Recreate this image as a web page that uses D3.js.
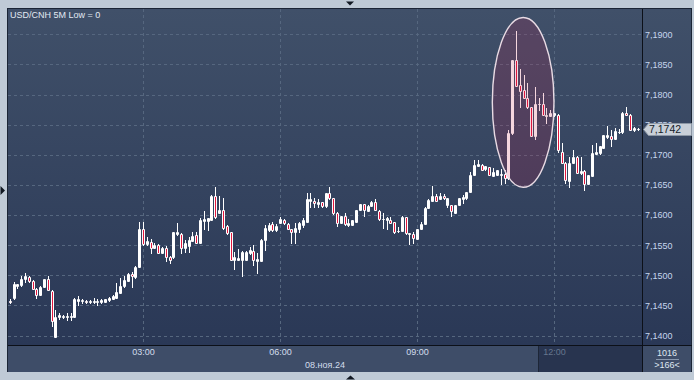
<!DOCTYPE html>
<html>
<head>
<meta charset="utf-8">
<script src="https://d3js.org/d3.v7.min.js"></script>
<style>
  body { margin: 0; background: #bfcad6; }
  svg { display: block; font-family: "Liberation Sans", Arial, sans-serif; }
</style>
</head>
<body>
<svg width="694" height="380"></svg>
<script>
// USD/CNH 5 minute bars, 08.11.2024, first bar at 00:05
const title = "USD/CNH 5M Low = 0";
const firstBar = "00:05";
const dateLabel = "08.ноя.24";
const opens = [
  7.1457, 7.1462, 7.1482, 7.1484, 7.1494, 7.1497, 7.1491, 7.1478, 7.1468, 7.1481,
  7.1493, 7.1474, 7.1398, 7.1430, 7.1430, 7.1430, 7.1430, 7.1431, 7.1458, 7.1458,
  7.1458, 7.1456, 7.1455, 7.1456, 7.1455, 7.1456, 7.1459, 7.1461, 7.1463, 7.1471,
  7.1483, 7.1491, 7.1502, 7.1497, 7.1514, 7.1576, 7.1552, 7.1556, 7.1546, 7.1550,
  7.1537, 7.1546, 7.1530, 7.1530, 7.1568, 7.1569, 7.1546, 7.1549, 7.1557, 7.1567,
  7.1554, 7.1590, 7.1590, 7.1592, 7.1631, 7.1604, 7.1608, 7.1581, 7.1571, 7.1525,
  7.1526, 7.1525, 7.1525, 7.1537, 7.1540, 7.1524, 7.1524, 7.1559, 7.1575, 7.1585,
  7.1575, 7.1586, 7.1592, 7.1585, 7.1576, 7.1571, 7.1576, 7.1584, 7.1589, 7.1624,
  7.1624, 7.1618, 7.1621, 7.1615, 7.1636, 7.1628, 7.1604, 7.1586, 7.1598, 7.1584,
  7.1584, 7.1589, 7.1608, 7.1618, 7.1607, 7.1615, 7.1622, 7.1607, 7.1593, 7.1592,
  7.1592, 7.1589, 7.1573, 7.1574, 7.1596, 7.1569, 7.1569, 7.1561, 7.1576, 7.1585,
  7.1611, 7.1624, 7.1632, 7.1626, 7.1632, 7.1617, 7.1617, 7.1604, 7.1617, 7.1626,
  7.1628, 7.1639, 7.1667, 7.1681, 7.1683, 7.1676, 7.1679, 7.1665, 7.1667, 7.1667,
  7.1668, 7.1661, 7.1736, 7.1857, 7.1816, 7.1808, 7.1795, 7.1779, 7.1732, 7.1784,
  7.1784, 7.1765, 7.1764, 7.1766, 7.1766, 7.1705, 7.1687, 7.1657, 7.1686, 7.1696,
  7.1670, 7.1673, 7.1652, 7.1665, 7.1701, 7.1703, 7.1712, 7.1729, 7.1731, 7.1727,
  7.1737, 7.1737, 7.1770, 7.1766, 7.1741, 7.1742
];
const highs = [
  7.1461, 7.1488, 7.1486, 7.1499, 7.1503, 7.1499, 7.1492, 7.1479, 7.1482, 7.1494,
  7.1498, 7.1476, 7.1442, 7.1437, 7.1434, 7.1438, 7.1437, 7.1463, 7.1465, 7.1461,
  7.1459, 7.1459, 7.1462, 7.1460, 7.1461, 7.1461, 7.1464, 7.1468, 7.1487, 7.1496,
  7.1498, 7.1504, 7.1505, 7.1515, 7.1589, 7.1589, 7.1564, 7.1560, 7.1554, 7.1552,
  7.1547, 7.1549, 7.1532, 7.1572, 7.1586, 7.1570, 7.1559, 7.1564, 7.1571, 7.1571,
  7.1595, 7.1606, 7.1595, 7.1633, 7.1647, 7.1631, 7.1628, 7.1584, 7.1572, 7.1539,
  7.1543, 7.1540, 7.1540, 7.1547, 7.1550, 7.1537, 7.1560, 7.1584, 7.1587, 7.1589,
  7.1585, 7.1597, 7.1593, 7.1586, 7.1577, 7.1586, 7.1589, 7.1595, 7.1636, 7.1636,
  7.1628, 7.1626, 7.1622, 7.1637, 7.1646, 7.1628, 7.1605, 7.1599, 7.1603, 7.1593,
  7.1591, 7.1609, 7.1618, 7.1619, 7.1616, 7.1623, 7.1627, 7.1608, 7.1604, 7.1597,
  7.1597, 7.1589, 7.1580, 7.1598, 7.1597, 7.1570, 7.1572, 7.1577, 7.1589, 7.1613,
  7.1626, 7.1648, 7.1635, 7.1636, 7.1635, 7.1628, 7.1617, 7.1617, 7.1628, 7.1633,
  7.1639, 7.1671, 7.1691, 7.1691, 7.1684, 7.1682, 7.1680, 7.1678, 7.1674, 7.1676,
  7.1675, 7.1741, 7.1858, 7.1906, 7.1842, 7.1833, 7.1819, 7.1779, 7.1813, 7.1795,
  7.1803, 7.1778, 7.1774, 7.1769, 7.1767, 7.1719, 7.1688, 7.1696, 7.1708, 7.1698,
  7.1696, 7.1674, 7.1667, 7.1716, 7.1720, 7.1714, 7.1733, 7.1747, 7.1741, 7.1744,
  7.1743, 7.1771, 7.1779, 7.1767, 7.1746, 7.1745
];
const lows = [
  7.1454, 7.1461, 7.1479, 7.1483, 7.1489, 7.1489, 7.1477, 7.1462, 7.1467, 7.1481,
  7.1475, 7.1416, 7.1398, 7.1427, 7.1429, 7.1426, 7.1426, 7.1431, 7.1451, 7.1454,
  7.1454, 7.1454, 7.1454, 7.1450, 7.1454, 7.1456, 7.1458, 7.1461, 7.1462, 7.1471,
  7.1481, 7.1490, 7.1481, 7.1496, 7.1513, 7.1551, 7.1550, 7.1537, 7.1545, 7.1537,
  7.1537, 7.1523, 7.1520, 7.1529, 7.1567, 7.1537, 7.1539, 7.1539, 7.1557, 7.1554,
  7.1554, 7.1576, 7.1575, 7.1591, 7.1595, 7.1603, 7.1577, 7.1569, 7.1525, 7.1510,
  7.1525, 7.1499, 7.1525, 7.1535, 7.1517, 7.1503, 7.1524, 7.1542, 7.1574, 7.1574,
  7.1574, 7.1586, 7.1585, 7.1576, 7.1553, 7.1553, 7.1572, 7.1580, 7.1589, 7.1613,
  7.1614, 7.1613, 7.1614, 7.1614, 7.1627, 7.1602, 7.1581, 7.1586, 7.1584, 7.1582,
  7.1583, 7.1589, 7.1608, 7.1598, 7.1607, 7.1615, 7.1608, 7.1592, 7.1578, 7.1576,
  7.1586, 7.1570, 7.1572, 7.1573, 7.1569, 7.1552, 7.1553, 7.1561, 7.1576, 7.1585,
  7.1611, 7.1623, 7.1623, 7.1626, 7.1627, 7.1613, 7.1598, 7.1603, 7.1616, 7.1620,
  7.1627, 7.1638, 7.1666, 7.1681, 7.1674, 7.1675, 7.1666, 7.1665, 7.1666, 7.1652,
  7.1653, 7.1660, 7.1735, 7.1814, 7.1780, 7.1795, 7.1778, 7.1731, 7.1727, 7.1774,
  7.1766, 7.1753, 7.1764, 7.1765, 7.1705, 7.1686, 7.1653, 7.1647, 7.1686, 7.1670,
  7.1668, 7.1642, 7.1651, 7.1665, 7.1701, 7.1702, 7.1712, 7.1728, 7.1714, 7.1727,
  7.1736, 7.1736, 7.1766, 7.1741, 7.1740, 7.1741
];
const closes = [
  7.1456, 7.1486, 7.1485, 7.1494, 7.1498, 7.1491, 7.1478, 7.1468, 7.1481, 7.1493,
  7.1476, 7.1424, 7.1431, 7.1434, 7.1433, 7.1432, 7.1432, 7.1460, 7.1460, 7.1459,
  7.1455, 7.1457, 7.1457, 7.1457, 7.1459, 7.1460, 7.1462, 7.1466, 7.1472, 7.1483,
  7.1492, 7.1502, 7.1498, 7.1514, 7.1576, 7.1552, 7.1557, 7.1546, 7.1550, 7.1537,
  7.1545, 7.1531, 7.1525, 7.1571, 7.1571, 7.1546, 7.1553, 7.1559, 7.1565, 7.1554,
  7.1592, 7.1593, 7.1595, 7.1632, 7.1596, 7.1608, 7.1578, 7.1570, 7.1525, 7.1530,
  7.1529, 7.1539, 7.1539, 7.1542, 7.1525, 7.1527, 7.1559, 7.1578, 7.1584, 7.1575,
  7.1582, 7.1593, 7.1586, 7.1576, 7.1571, 7.1578, 7.1586, 7.1592, 7.1626, 7.1626,
  7.1620, 7.1621, 7.1615, 7.1636, 7.1628, 7.1603, 7.1587, 7.1598, 7.1585, 7.1586,
  7.1591, 7.1608, 7.1618, 7.1608, 7.1615, 7.1622, 7.1608, 7.1593, 7.1594, 7.1595,
  7.1586, 7.1572, 7.1574, 7.1597, 7.1570, 7.1570, 7.1562, 7.1576, 7.1585, 7.1612,
  7.1625, 7.1632, 7.1624, 7.1632, 7.1628, 7.1628, 7.1606, 7.1617, 7.1628, 7.1630,
  7.1639, 7.1667, 7.1683, 7.1685, 7.1675, 7.1681, 7.1667, 7.1672, 7.1674, 7.1668,
  7.1662, 7.1736, 7.1857, 7.1814, 7.1806, 7.1795, 7.1779, 7.1732, 7.1784, 7.1785,
  7.1766, 7.1766, 7.1769, 7.1769, 7.1708, 7.1687, 7.1658, 7.1686, 7.1696, 7.1670,
  7.1673, 7.1652, 7.1667, 7.1703, 7.1704, 7.1714, 7.1733, 7.1733, 7.1727, 7.1740,
  7.1738, 7.1770, 7.1766, 7.1741, 7.1744, 7.1742
];
const yTicks = [7.14, 7.145, 7.15, 7.155, 7.16, 7.165, 7.17, 7.175, 7.18, 7.185, 7.19];
const xTicks = ["03:00", "06:00", "09:00", "12:00"];
const lastPrice = 7.1742;
const barsTotal = "1016";
const barsShown = ">166<";
// ellipse drawn round the 10:40-12:00 spike
const circled = { from: "10:39", to: "12:00", top: 7.1928, bottom: 7.1646 };

const svg = d3.select("svg");
const parse = d3.timeParse("%H:%M");
const t0 = parse(firstBar);
const bars = opens.map((o, i) => ({
  t: d3.timeMinute.offset(t0, 5 * i), o: o, h: highs[i], l: lows[i], c: closes[i]
}));

const pl = 8, pr = 642, pt = 9, pb = 345;

const x = d3.scaleTime()
    .domain([parse("00:00"), parse("13:55")])
    .range([6, 641.5]);
const y = d3.scaleLinear()
    .domain([7.14, 7.19])
    .range([335.5, 34.3]);

const fmt = d3.formatLocale({ decimal: ",", thousands: " ", grouping: [3], currency: ["", ""] }).format(".4f");

const defs = svg.append("defs");
const grad = defs.append("linearGradient").attr("id", "bg").attr("x1", 0).attr("y1", 0).attr("x2", 0).attr("y2", 1);
grad.append("stop").attr("offset", 0).attr("stop-color", "#405069");
grad.append("stop").attr("offset", 1).attr("stop-color", "#2a3856");
defs.append("clipPath").attr("id", "plot")
  .append("rect").attr("x", pl).attr("y", pt).attr("width", pr - pl).attr("height", pb - pt);

// frame
svg.append("rect").attr("width", 694).attr("height", 380).attr("fill", "#bfcad6");
svg.append("rect").attr("x", 7).attr("y", 8).attr("width", 685).attr("height", 364)
  .attr("fill", "#1b2535");
svg.append("rect").attr("x", pl).attr("y", pt).attr("width", pr - pl).attr("height", pb - pt)
  .attr("fill", "url(#bg)");
svg.append("rect").attr("x", pr + 1).attr("y", pt).attr("width", 48).attr("height", pb - pt)
  .attr("fill", "url(#bg)");
svg.append("rect").attr("x", pl).attr("y", pb + 1).attr("width", pr - pl).attr("height", 26)
  .attr("fill", "#3e4d68");
svg.append("rect").attr("x", pr + 1).attr("y", pb + 1).attr("width", 48).attr("height", 26)
  .attr("fill", "#3e4d68");
// darker strip under the latest bars
const darkFrom = Math.round(x(parse("11:40")));
svg.append("rect").attr("x", darkFrom).attr("y", pb + 1).attr("width", pr - darkFrom).attr("height", 26)
  .attr("fill", "#28344f");
svg.append("line").attr("x1", darkFrom - 0.5).attr("x2", darkFrom - 0.5).attr("y1", pb + 1).attr("y2", pb + 27)
  .attr("stroke", "#1d2637");

// grid
svg.append("g").selectAll("line").data(yTicks).join("line")
  .attr("x1", pl).attr("x2", pr)
  .attr("y1", d => Math.round(y(d)) + 0.5).attr("y2", d => Math.round(y(d)) + 0.5)
  .attr("stroke", "#56677f").attr("stroke-dasharray", "3,3");
svg.append("g").selectAll("line").data(xTicks).join("line")
  .attr("x1", d => Math.round(x(parse(d))) + 0.5).attr("x2", d => Math.round(x(parse(d))) + 0.5)
  .attr("y1", pt).attr("y2", pb)
  .attr("stroke", "#56677f").attr("stroke-dasharray", "3,3");

// candles
const chart = svg.append("g").attr("clip-path", "url(#plot)");
chart.selectAll("line").data(bars).join("line")
  .attr("x1", d => Math.round(x(d.t)) + 0.5).attr("x2", d => Math.round(x(d.t)) + 0.5)
  .attr("y1", d => Math.round(y(d.h))).attr("y2", d => Math.round(y(d.l)) + 1)
  .attr("stroke", "#ffffff");
chart.selectAll("path").data(bars).join("path")
  .attr("d", d => {
    const cx = Math.round(x(d.t));
    const y0 = Math.round(y(Math.max(d.o, d.c))) + 0.5;
    const y1 = Math.round(y(Math.min(d.o, d.c))) + 0.5;
    return `M${cx - 0.5},${y0}H${cx + 1.5}V${y1}H${cx - 0.5}Z`;
  })
  .attr("fill", d => d.c < d.o ? "#e3173e" : "none")
  .attr("stroke", "#ffffff");

// annotation ellipse
const ex0 = x(parse(circled.from)), ex1 = x(parse(circled.to));
const ey0 = y(circled.top), ey1 = y(circled.bottom);
chart.append("ellipse")
  .attr("cx", (ex0 + ex1) / 2).attr("cy", (ey0 + ey1) / 2)
  .attr("rx", (ex1 - ex0) / 2).attr("ry", (ey1 - ey0) / 2)
  .attr("fill", "rgba(200,30,70,0.18)")
  .attr("stroke", "#e9dbe4").attr("stroke-width", 1.4);

// separators
svg.append("line").attr("x1", pr + 0.5).attr("x2", pr + 0.5).attr("y1", pt).attr("y2", pb + 27)
  .attr("stroke", "#0c1018");
svg.append("line").attr("x1", pl).attr("x2", 692).attr("y1", pb + 0.5).attr("y2", pb + 0.5)
  .attr("stroke", "#0c1018");

// y axis
const yAxis = svg.append("g")
    .attr("transform", `translate(${pr},0)`)
    .call(d3.axisRight(y).tickValues(yTicks).tickFormat(fmt).tickSize(0).tickPadding(3));
yAxis.select(".domain").remove();
yAxis.selectAll("text").attr("fill", "#c6d6ee").style("font-size", "9px")
  .style("font-family", "'Liberation Sans', Arial, sans-serif");

// x axis
const xAxis = svg.append("g")
    .attr("transform", `translate(0,${pb + 1})`)
    .call(d3.axisBottom(x).tickValues(xTicks.map(parse)).tickFormat(d3.timeFormat("%H:%M")).tickSize(0).tickPadding(3));
xAxis.select(".domain").remove();
xAxis.selectAll("text")
  .attr("fill", d => d < parse("11:40") ? "#d3deec" : "#66768e")
  .style("font-size", "9px").style("font-family", "'Liberation Sans', Arial, sans-serif");

svg.append("text").attr("x", (pl + pr) / 2).attr("y", 367.5).attr("text-anchor", "middle")
  .attr("fill", "#d3deec").style("font-size", "9px").text(dateLabel);

svg.append("text").attr("x", 10).attr("y", 17.5)
  .attr("fill", "#e2e9f2").style("font-size", "9px").text(title);

// last price marker
const py = Math.round(y(lastPrice)) + 0.5;
svg.append("path")
  .attr("d", `M${pr + 1.5},${py}L${pr + 6.5},${py - 6}H691.5V${py + 6}H${pr + 6.5}Z`)
  .attr("fill", "#c8cfd8").attr("stroke", "#8c97a5");
svg.append("text").attr("x", pr + 7).attr("y", py + 3.8)
  .attr("fill", "#141c2a").style("font-size", "10.5px").text(fmt(lastPrice));

// bars count box
svg.append("text").attr("x", 667).attr("y", 356).attr("text-anchor", "middle")
  .attr("fill", "#dfe7f1").style("font-size", "9px").text(barsTotal);
svg.append("line").attr("x1", 656).attr("x2", 679).attr("y1", 359.5).attr("y2", 359.5)
  .attr("stroke", "#8a99ae");
svg.append("text").attr("x", 667).attr("y", 368.3).attr("text-anchor", "middle")
  .attr("fill", "#dfe7f1").style("font-size", "9px").text(barsShown);

// scroll markers
svg.append("path").attr("d", "M346,1.5H354L350,5.5Z").attr("fill", "#111822");
svg.append("path").attr("d", "M346,379.5H355L350.5,375.5Z").attr("fill", "#111822");
svg.append("path").attr("d", "M0.5,186V195L5,190.5Z").attr("fill", "#111822");
</script>
</body>
</html>
